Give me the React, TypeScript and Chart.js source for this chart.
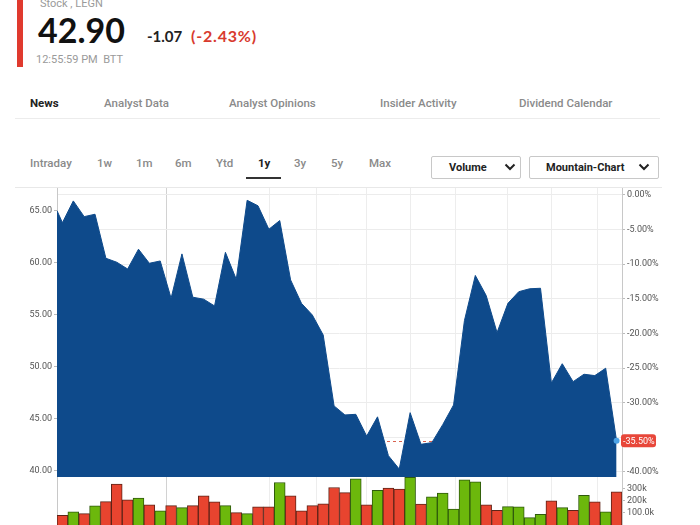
import React, { useEffect, useRef } from "react";
import { Chart, registerables } from "chart.js";
Chart.register(...registerables);

// ---------- data ----------
const prices = [
  65.0, 63.85, 65.94, 64.43, 64.66, 60.43, 60.05, 59.4, 61.3, 59.95,
  60.17, 56.59, 60.85, 56.69, 56.5, 55.85, 61.0, 58.41, 66.0, 65.47,
  63.22, 64.05, 58.35, 56.1, 54.98, 53.06, 46.25, 45.38, 45.44, 43.35,
  45.2, 41.47, 40.18, 45.6, 42.56, 42.72, 44.45, 46.34, 54.45, 58.78,
  56.85, 53.29, 56.1, 57.22, 57.5, 57.55, 48.45, 50.3, 48.58, 49.29,
  49.16, 49.87, 42.9,
];
// position of each close on the week axis (first close falls mid-week)
const weekPos = [
  -0.5, 0, 1, 2, 3, 4, 5, 6, 7, 8, 9, 10, 11, 12, 13, 14, 15, 16, 17, 18,
  19, 20, 21, 22, 23, 24, 25, 26, 27, 28, 29, 30, 31, 32, 33, 34, 35, 36,
  37, 38, 39, 40, 41, 42, 43, 44, 45, 46, 47, 48, 49, 50, 51,
];
// weekly volume in thousands (one bar per week, weeks 0..51)
const volumesK = [
  79, 107, 93, 156, 191, 334, 205, 219, 164, 115,
  158, 142, 158, 238, 189, 158, 101, 93, 148, 148,
  347, 238, 115, 158, 172, 306, 265, 377, 164, 284,
  301, 293, 390, 170, 230, 260, 129, 369, 352, 164,
  120, 150, 148, 60, 88, 197, 142, 120, 243, 189,
  107, 270,
];
const lastPrice = 42.9;
const lastPct = -35.5;
const priceTicks = [40, 45, 50, 55, 60, 65];
const pctTicks = [0, -5, -10, -15, -20, -25, -30, -35, -40];
const volTicks = [100000, 200000, 300000];
const volTickLabels = ["100.0k", "200k", "300k"];
const monthLines = [9.55, 19.1, 23.4, 28, 32, 36.2, 41, 45, 49.2];
const yearLine = 9.55;
const tabs = ["News", "Analyst Data", "Analyst Opinions", "Insider Activity", "Dividend Calendar"];
const timeframes = ["Intraday", "1w", "1m", "6m", "Ytd", "1y", "3y", "5y", "Max"];

// ---------- styling ----------
const BLUE = "#0e4a8b";
const RED = "#e8442f";
const GREEN = "#6cb80c";
const RED_B = "#5e2418";
const GREEN_B = "#2f5a0c";
const X_MIN = -0.5;
const X_MAX = 51.5;
const P_MIN = 39.42;
const P_MAX = 67.18;
const V_MAX = 392000;
const LEFT_W = 57;
const RIGHT_W = 78;
const tickFont = { family: "Roboto, sans-serif", size: 9 };

const xScale = () => ({
  type: "linear" as const,
  min: X_MIN,
  max: X_MAX,
  offset: false,
  afterBuildTicks: (a: any) => {
    a.ticks = monthLines.map((v) => ({ value: v }));
  },
  ticks: { display: false },
  grid: {
    color: (c: any) => (c.tick && c.tick.value === yearLine ? "#d2d2d2" : "#ededed"),
    drawTicks: false,
    lineWidth: 1,
    offset: false,
  },
  border: { display: false },
});

function PriceChart() {
  const ref = useRef<HTMLCanvasElement>(null);
  useEffect(() => {
    const base = lastPrice / (1 + lastPct / 100);
    const pts = prices.map((p, i) => ({ x: weekPos[i], y: p }));
    const n = prices.length;
    const overlay = {
      id: "overlay",
      beforeDatasetsDraw(chart: any) {
        const { ctx, chartArea } = chart;
        const y = chart.scales.y.getPixelForValue(lastPrice);
        ctx.save();
        ctx.strokeStyle = "#d9624f";
        ctx.lineWidth = 1;
        ctx.setLineDash([3, 3]);
        ctx.beginPath();
        ctx.moveTo(chartArea.left, Math.round(y) + 0.5);
        ctx.lineTo(chartArea.right, Math.round(y) + 0.5);
        ctx.stroke();
        ctx.restore();
      },
      afterDraw(chart: any) {
        const { ctx, chartArea } = chart;
        const y = chart.scales.yPct.getPixelForValue(lastPct);
        const x = chartArea.right - 1;
        const w = 35;
        const h = 13;
        ctx.save();
        ctx.fillStyle = "#e8473a";
        ctx.beginPath();
        (ctx as any).roundRect(x, y - h / 2, w, h, 3);
        ctx.fill();
        ctx.fillStyle = "#ffffff";
        ctx.font = "9px Roboto, sans-serif";
        ctx.textBaseline = "middle";
        ctx.textAlign = "left";
        ctx.fillText(lastPct.toFixed(2) + "%", x + 2, y + 0.5);
        ctx.restore();
      },
    };
    const chart = new Chart(ref.current!, {
      type: "line",
      data: {
        datasets: [
          {
            data: pts,
            borderColor: BLUE,
            backgroundColor: BLUE,
            fill: "start",
            borderWidth: 1,
            tension: 0,
            pointRadius: (c: any) => (c.dataIndex === n - 1 ? 3 : 0),
            pointBackgroundColor: "#4da3e6",
            pointBorderWidth: 0,
            yAxisID: "y",
          },
        ],
      },
      options: {
        animation: false,
        responsive: false,
        maintainAspectRatio: false,
        layout: { padding: { top: 18, bottom: 13, left: 0, right: 0 } },
        plugins: { legend: { display: false }, tooltip: { enabled: false } },
        scales: {
          x: xScale() as any,
          y: {
            position: "left",
            min: P_MIN,
            max: P_MAX,
            afterBuildTicks: (a: any) => {
              a.ticks = priceTicks.map((v) => ({ value: v }));
            },
            ticks: {
              callback: (v: any) => Number(v).toFixed(2),
              font: tickFont,
              color: "#555",
              padding: 2,
            },
            grid: { drawOnChartArea: false, tickLength: 3, color: "#bbb" },
            border: { display: true, color: "#c8c8c8" },
            afterFit: (s: any) => {
              s.width = LEFT_W;
            },
          },
          yPct: {
            position: "right",
            min: (P_MIN / base - 1) * 100,
            max: (P_MAX / base - 1) * 100,
            afterBuildTicks: (a: any) => {
              a.ticks = pctTicks.map((v) => ({ value: v }));
            },
            ticks: {
              // the current-value badge replaces any tick label it would overlap
              callback: (v: any) =>
                Math.abs(Number(v) - lastPct) < 2 ? "" : Number(v).toFixed(2) + "%",
              font: tickFont,
              color: "#555",
              padding: 2,
            },
            grid: { color: "#ececec", tickColor: "#bbb", tickLength: 3 },
            border: { display: true, color: "#c8c8c8" },
            afterFit: (s: any) => {
              s.width = RIGHT_W;
            },
          },
        },
      } as any,
      plugins: [overlay],
    });
    return () => chart.destroy();
  }, []);
  return (
    <canvas
      ref={ref}
      width={700}
      height={320}
      style={{ position: "absolute", left: 0, top: 170, width: 700, height: 320 }}
    />
  );
}

function VolumeChart() {
  const ref = useRef<HTMLCanvasElement>(null);
  useEffect(() => {
    const up = volumesK.map((_, i) => prices[i + 1] >= prices[i]);
    const chart = new Chart(ref.current!, {
      type: "bar",
      data: {
        datasets: [
          {
            data: volumesK.map((v, i) => ({ x: weekPos[i + 1], y: v * 1000 })),
            backgroundColor: up.map((u) => (u ? GREEN : RED)),
            borderColor: up.map((u) => (u ? GREEN_B : RED_B)),
            borderWidth: 1,
            barPercentage: 1,
            categoryPercentage: 1,
            yAxisID: "yv",
          },
        ],
      },
      options: {
        animation: false,
        responsive: false,
        maintainAspectRatio: false,
        layout: { padding: { top: 17, bottom: 15, left: 0, right: 0 } },
        plugins: { legend: { display: false }, tooltip: { enabled: false } },
        scales: {
          x: xScale() as any,
          yl: {
            position: "left",
            min: 0,
            max: V_MAX,
            ticks: { display: false },
            grid: { drawOnChartArea: false, drawTicks: false },
            border: { display: true, color: "#c8c8c8" },
            afterFit: (s: any) => {
              s.width = LEFT_W;
            },
          },
          yv: {
            position: "right",
            min: 0,
            max: V_MAX,
            afterBuildTicks: (a: any) => {
              a.ticks = volTicks.map((v) => ({ value: v }));
            },
            ticks: {
              callback: (v: any) => volTickLabels[volTicks.indexOf(Number(v))],
              font: tickFont,
              color: "#555",
              padding: 2,
            },
            grid: { drawOnChartArea: false, tickColor: "#bbb", tickLength: 3 },
            border: { display: true, color: "#c8c8c8" },
            afterFit: (s: any) => {
              s.width = RIGHT_W;
            },
          },
        },
      } as any,
    });
    return () => chart.destroy();
  }, []);
  return (
    <canvas
      ref={ref}
      width={700}
      height={80}
      style={{ position: "absolute", left: 0, top: 460, width: 700, height: 80 }}
    />
  );
}

function Txt(props: {
  x: number;
  base: number;
  size: number;
  family?: string;
  weight?: number;
  color?: string;
  ls?: number;
  children: React.ReactNode;
}) {
  const family = props.family || "Roboto";
  const k = family.startsWith("Lato") ? 0.887 : 0.842;
  return (
    <div
      style={{
        position: "absolute",
        left: props.x,
        top: props.base - k * props.size,
        fontSize: props.size,
        lineHeight: props.size + "px",
        fontFamily: family + ", sans-serif",
        fontWeight: props.weight || 400,
        color: props.color || "#888",
        whiteSpace: "nowrap",
        letterSpacing: props.ls || 0,
      }}
    >
      {props.children}
    </div>
  );
}

function Chevron({ x, y }: { x: number; y: number }) {
  return (
    <svg
      width={12}
      height={8}
      style={{ position: "absolute", left: x, top: y }}
      viewBox="0 0 12 8"
    >
      <polyline points="1.5,1.5 6,6 10.5,1.5" fill="none" stroke="#222" strokeWidth={2} />
    </svg>
  );
}

const tabX = [30, 104, 229, 380, 519];
const tfX = [30, 97, 136, 175, 216, 258, 294, 331, 369];

export default function App() {
  return (
    <div
      style={{
        position: "fixed",
        left: 0,
        top: 0,
        width: 700,
        height: 525,
        overflow: "hidden",
        background: "#fff",
      }}
    >
      {/* header */}
      <div style={{ position: "absolute", left: 17, top: 0, width: 6, height: 67, background: "#e03a2e" }} />
      <Txt x={40} base={7.5} size={11} color="#9a9a9a">Stock , LEGN</Txt>
      <Txt x={38} base={43.5} size={34} family="Lato" weight={700} color="#111">{lastPrice.toFixed(2)}</Txt>
      <Txt x={147} base={42} size={15} family="Lato" weight={700} color="#222">-1.07</Txt>
      <Txt x={191} base={42} size={16} family="Lato" weight={700} color="#d83a2e" ls={0.8}>(-2.43%)</Txt>
      <Txt x={36} base={63.5} size={11} color="#9a9a9a">12:55:59 PM&nbsp;&nbsp;BTT</Txt>

      {/* tabs */}
      {tabs.map((t, i) => (
        <Txt key={t} x={tabX[i]} base={107.5} size={11.5} weight={i === 0 ? 700 : 500} color={i === 0 ? "#222" : "#8a8a8a"}>
          {t}
        </Txt>
      ))}
      <div style={{ position: "absolute", left: 15, top: 118, width: 645, height: 1, background: "#ececec" }} />

      {/* time frames */}
      {timeframes.map((t, i) => (
        <Txt key={t} x={tfX[i]} base={168} size={11.5} weight={t === "1y" ? 700 : 500} color={t === "1y" ? "#222" : "#8a8a8a"}>
          {t}
        </Txt>
      ))}
      <div style={{ position: "absolute", left: 246, top: 177, width: 35, height: 2, background: "#333" }} />

      {/* buttons */}
      <div style={{ position: "absolute", left: 431, top: 156, width: 88, height: 21, border: "1px solid #c8c8c8", borderRadius: 2 }} />
      <Txt x={449} base={171} size={11} weight={700} color="#222">Volume</Txt>
      <Chevron x={504} y={163} />
      <div style={{ position: "absolute", left: 529, top: 156, width: 128, height: 21, border: "1px solid #c8c8c8", borderRadius: 2 }} />
      <Txt x={546} base={171} size={11} weight={700} color="#222">Mountain-Chart</Txt>
      <Chevron x={638} y={163} />

      {/* chart top border */}
      <div style={{ position: "absolute", left: 15, top: 187, width: 647, height: 1, background: "#e8e8e8" }} />

      <PriceChart />
      <VolumeChart />
    </div>
  );
}
